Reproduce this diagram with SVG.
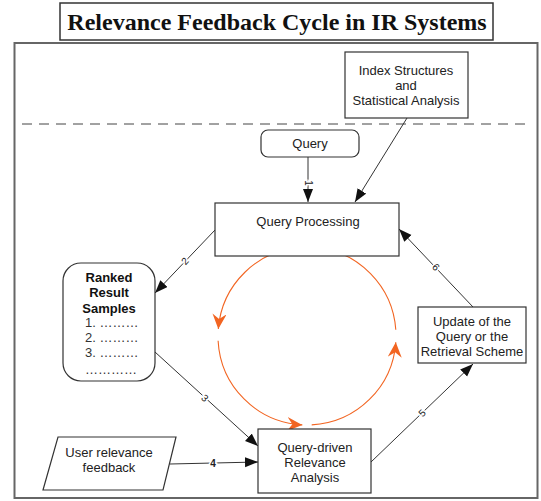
<svg xmlns="http://www.w3.org/2000/svg" width="541" height="501" viewBox="0 0 541 501">
<style>
  .box { fill: #fff; stroke: #333; stroke-width: 1.2; }
  .t { font-family: "Liberation Sans", Arial, sans-serif; font-size: 13px; fill: #222; text-anchor: middle; }
  .tl { font-family: "Liberation Sans", Arial, sans-serif; font-size: 13px; fill: #333; }
  .b { font-weight: bold; fill: #111; }
  .con { fill: none; stroke: #333; stroke-width: 1; }
  .cyc { fill: none; stroke: #f26522; stroke-width: 1.1; }
  .lab { font-family: "Liberation Sans", Arial, sans-serif; font-size: 10px; fill: #222; text-anchor: middle; stroke: #fff; stroke-width: 3; paint-order: stroke; }
</style>
<defs>
  <marker id="ah" markerUnits="userSpaceOnUse" markerWidth="14" markerHeight="11" refX="13" refY="5" orient="auto">
    <path d="M0,0 L13,5 L0,10 z" fill="#111"/>
  </marker>
  <marker id="oh" markerUnits="userSpaceOnUse" markerWidth="17" markerHeight="15" refX="15" refY="7" orient="auto">
    <path d="M0,0 L15,7 L0,14 L5,7 z" fill="#f26522"/>
  </marker>
</defs>
<rect width="541" height="501" fill="#fff"/>

<g id="title">
  <rect x="60" y="3" width="433" height="37" fill="#fff" stroke="#333" stroke-width="1.5"/>
  <text x="277" y="30" font-family="'Liberation Serif', 'Times New Roman', serif" font-size="24" font-weight="bold" text-anchor="middle" fill="#111">Relevance Feedback Cycle in IR Systems</text>
</g>

<g id="frame">
  <rect x="14.5" y="43" width="523" height="455" fill="none" stroke="#666" stroke-width="2"/>
  <line x1="22" y1="124" x2="532" y2="124" stroke="#444" stroke-width="1" stroke-dasharray="10 7"/>
</g>

<g id="connectors">
  <line class="con" x1="308" y1="157" x2="308" y2="202" marker-end="url(#ah)"/>
  <line class="con" x1="407" y1="118" x2="355" y2="202" marker-end="url(#ah)"/>
  <line class="con" x1="215" y1="230" x2="155" y2="293" marker-end="url(#ah)"/>
  <line class="con" x1="155" y1="352" x2="258" y2="446" marker-end="url(#ah)"/>
  <line class="con" x1="170" y1="464" x2="258" y2="462" marker-end="url(#ah)"/>
  <line class="con" x1="371" y1="462" x2="473" y2="364" marker-end="url(#ah)"/>
  <line class="con" x1="473" y1="307" x2="399" y2="229" marker-end="url(#ah)"/>
  <text class="lab" transform="translate(308,183) rotate(90)" dy="3.5">1</text>
  <text class="lab" transform="translate(185,261) rotate(-46)" dy="3.5">2</text>
  <text class="lab" transform="translate(205,398) rotate(42)" dy="3.5">3</text>
  <text class="lab" x="213" y="463" dy="3.5" font-weight="bold">4</text>
  <text class="lab" transform="translate(422,413) rotate(-44)" dy="3.5">5</text>
  <text class="lab" transform="translate(436,267) rotate(46)" dy="3.5">6</text>
</g>

<g id="cycle">
  <path class="cyc" d="M395.8,329.8 A89,89 0 0 0 314.8,247.3" marker-end="url(#oh)"/>
  <path class="cyc" d="M302.3,247.1 A89,89 0 0 0 218.3,329.0" marker-end="url(#oh)"/>
  <path class="cyc" d="M218.1,340.7 A89,89 0 0 0 302.3,424.9" marker-end="url(#oh)"/>
  <path class="cyc" d="M311.7,424.9 A89,89 0 0 0 395.8,342.2" marker-end="url(#oh)"/>
</g>

<g id="index">
  <rect class="box" x="345" y="52" width="123" height="66"/>
  <text class="t" x="406" y="75">Index Structures</text>
  <text class="t" x="406" y="90">and</text>
  <text class="t" x="406" y="105">Statistical Analysis</text>
</g>

<g id="query">
  <rect class="box" x="261" y="130" width="98" height="27" rx="7"/>
  <text class="t" x="310" y="148">Query</text>
</g>

<g id="queryProcessing">
  <rect class="box" x="215" y="203" width="184" height="53"/>
  <text class="t" x="308" y="226">Query Processing</text>
</g>

<g id="ranked">
  <rect class="box" x="63" y="263" width="92" height="118" rx="18"/>
  <text class="t b" x="109" y="282">Ranked</text>
  <text class="t b" x="109" y="297">Result</text>
  <text class="t b" x="109" y="313">Samples</text>
  <text class="tl" x="85" y="327">1. ………</text>
  <text class="tl" x="85" y="342">2. ………</text>
  <text class="tl" x="85" y="357">3. ………</text>
  <text class="tl" x="85" y="374">…………</text>
</g>

<g id="userFeedback">
  <polygon class="box" points="58,437 176,437 163,490 43,490"/>
  <text class="t" x="109" y="457">User relevance</text>
  <text class="t" x="109" y="472">feedback</text>
</g>

<g id="analysis">
  <rect class="box" x="258" y="429" width="113" height="64"/>
  <text class="t" x="315" y="452">Query-driven</text>
  <text class="t" x="315" y="467">Relevance</text>
  <text class="t" x="315" y="482">Analysis</text>
</g>

<g id="update">
  <rect class="box" x="418" y="307" width="108" height="56"/>
  <text class="t" x="472" y="326">Update of the</text>
  <text class="t" x="472" y="341">Query or the</text>
  <text class="t" x="472" y="356">Retrieval Scheme</text>
</g>
</svg>
